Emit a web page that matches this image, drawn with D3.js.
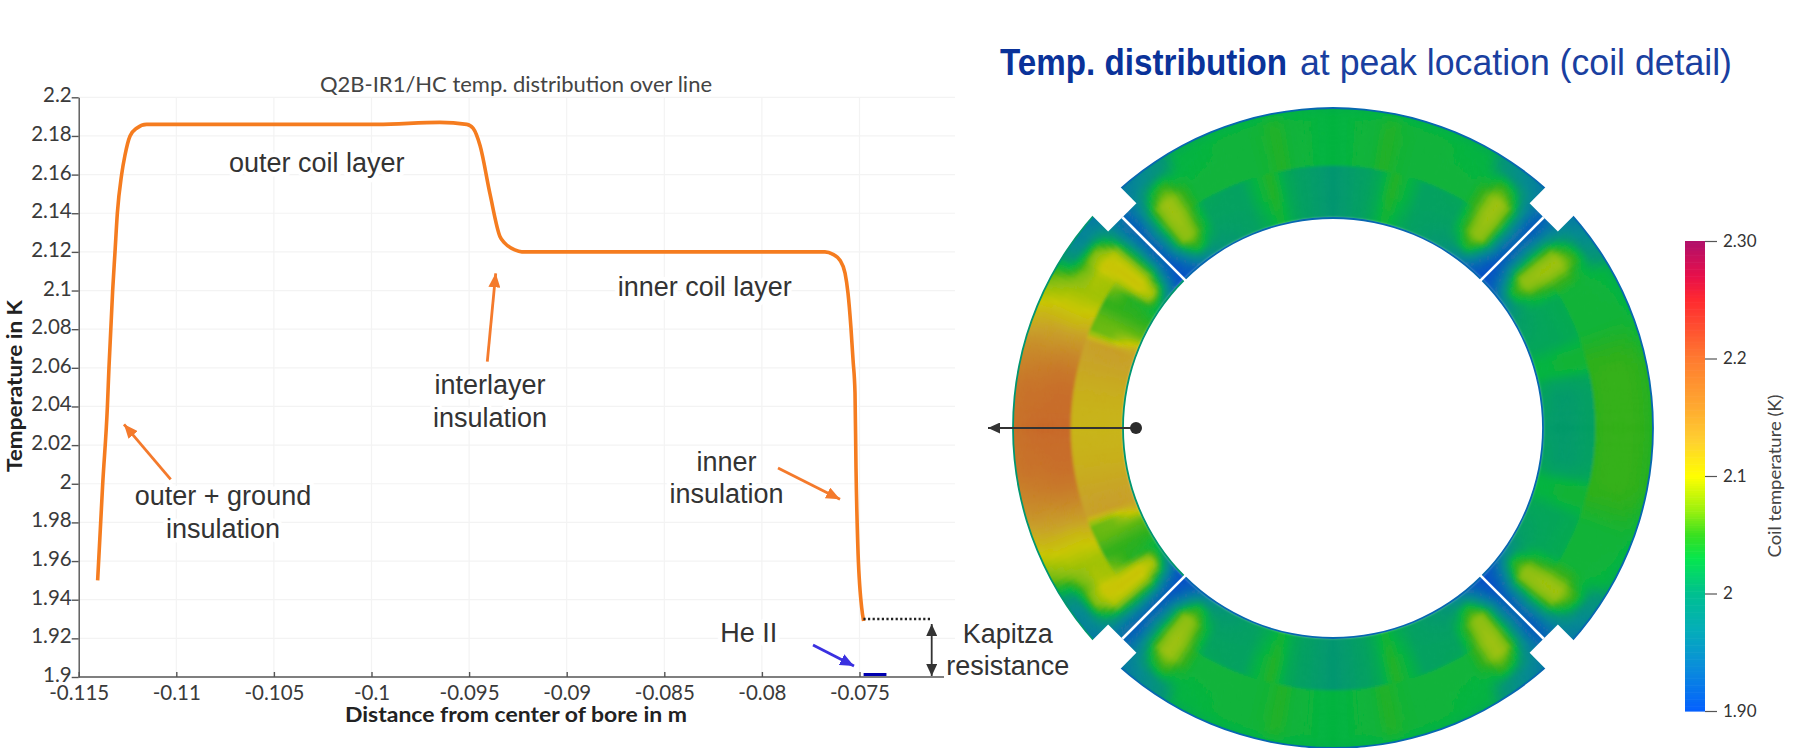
<!DOCTYPE html>
<html><head><meta charset="utf-8">
<script src="https://cdn.jsdelivr.net/npm/d3@7/dist/d3.min.js"></script>
<style>html,body{margin:0;background:#fff}svg{display:block}</style></head><body>
<svg id="c" width="1799" height="748"></svg>
<script>
// ---------- line chart data ----------
const coilDistance = [-0.11403,-0.11377,-0.11353,-0.11345,-0.11326,-0.11314,-0.11302,-0.1128,-0.11263,-0.11237,-0.11203,-0.11152,-0.105,-0.0997,-0.0965,-0.09512,-0.0948,-0.09444,-0.09393,-0.09342,-0.09317,-0.09266,-0.0923,-0.085,-0.07677,-0.07636,-0.076,-0.07574,-0.07559,-0.07544,-0.07533,-0.07523,-0.07518,-0.07509,-0.07489,-0.07479];
const coilTemperature = [1.95,2.0,2.04,2.06,2.1,2.12,2.14,2.16,2.17,2.18,2.184,2.186,2.186,2.186,2.187,2.186,2.184,2.175,2.15,2.128,2.1245,2.121,2.12,2.12,2.12,2.1187,2.1157,2.109,2.0987,2.081,2.064,2.047,2.0086,1.969,1.936,1.929];
const heliumDistance = [-0.07479,-0.07362];
const heliumTemperature = [1.9013,1.9013];
const yTicks = [2.2,2.18,2.16,2.14,2.12,2.1,2.08,2.06,2.04,2.02,2,1.98,1.96,1.94,1.92,1.9];
const xTicks = [-0.115,-0.11,-0.105,-0.1,-0.095,-0.09,-0.085,-0.08,-0.075];
const xTickLabels = ["-0.115","-0.11","-0.105","-0.1","-0.095","-0.09","-0.085","-0.08","-0.075"];
const kapitzaTemperature = 1.93;

// ---------- colour legend ----------
const legendTicks = [2.3,2.2,2.1,2,1.9];
const legendTickLabels = ["2.30","2.2","2.1","2","1.90"];
const colorTemps = [1.90,1.94,1.97,2.0,2.03,2.05,2.07,2.1,2.13,2.16,2.2,2.23,2.25,2.27,2.3];
const colorHexes = ["#0560ff","#0a90d8","#04aeb8","#00c090","#06e64e","#38e020","#98f010","#ffff00","#ffd030","#ffa830","#ff7b30","#ff4a30","#ff2a30","#e8104a","#b0106a"];

// ---------- ring temperature field, half-pole tables (rows by radius, columns by angle off pole axis) ----------
const innerRadii = [212,225,240,263];
const outerRadii = [263,280,296,310,320];
const sidePhi = [0,8,11,14,17,21,30,33,35,37,39,41,43,45];
const topInner = [
 [2.00,2.01,2.02,2.035,2.02,2.01,2.00,1.99,1.97,1.96,1.94,1.92,1.91,1.90],
 [2.00,2.01,2.02,2.04,2.025,2.01,2.005,2.01,2.03,2.04,2.00,1.95,1.92,1.90],
 [2.00,2.01,2.02,2.045,2.03,2.01,2.01,2.04,2.07,2.08,2.07,2.00,1.94,1.91],
 [2.00,2.01,2.02,2.045,2.03,2.01,2.015,2.055,2.08,2.085,2.07,2.01,1.95,1.92]];
const topOuter = [
 [2.03,2.032,2.045,2.036,2.032,2.032,2.032,2.055,2.08,2.085,2.07,2.01,1.95,1.92],
 [2.03,2.032,2.045,2.036,2.032,2.032,2.032,2.055,2.08,2.085,2.065,2.0,1.94,1.91],
 [2.03,2.032,2.045,2.036,2.032,2.032,2.03,2.03,2.05,2.04,2.01,1.97,1.94,1.92],
 [2.03,2.032,2.042,2.034,2.032,2.032,2.028,2.0,1.99,1.98,1.97,1.96,1.95,1.94],
 [2.025,2.025,2.03,2.026,2.025,2.025,2.02,1.99,1.98,1.97,1.96,1.95,1.94,1.93]];
const rightInner = [
 [2.005,2.01,2.015,2.03,2.03,2.015,2.005,1.99,1.97,1.96,1.94,1.92,1.91,1.90],
 [2.005,2.005,2.01,2.03,2.03,2.015,2.01,2.01,2.03,2.04,2.00,1.95,1.92,1.90],
 [2.005,2.005,2.01,2.035,2.035,2.015,2.015,2.04,2.07,2.08,2.07,2.00,1.94,1.91],
 [2.01,2.01,2.015,2.035,2.035,2.02,2.02,2.055,2.08,2.085,2.07,2.01,1.95,1.92]];
const rightOuter = [
 [2.05,2.05,2.05,2.05,2.045,2.034,2.034,2.055,2.08,2.085,2.07,2.01,1.95,1.92],
 [2.052,2.052,2.052,2.05,2.045,2.034,2.034,2.055,2.08,2.085,2.065,2.0,1.94,1.91],
 [2.052,2.052,2.052,2.05,2.045,2.034,2.032,2.03,2.05,2.04,2.01,1.97,1.94,1.92],
 [2.05,2.05,2.05,2.048,2.042,2.034,2.03,2.0,1.99,1.98,1.97,1.96,1.95,1.94],
 [2.045,2.045,2.045,2.04,2.035,2.03,2.02,1.99,1.98,1.97,1.96,1.95,1.94,1.93]];
const leftPhi = [0,8,12,16,20,22,25,29,33,35,37,39,41,43,45];
const leftInner = [
 [2.115,2.12,2.125,2.13,2.13,2.12,2.065,2.05,2.03,2.02,2.00,1.97,1.94,1.91,1.90],
 [2.115,2.12,2.125,2.13,2.135,2.10,2.065,2.05,2.04,2.08,2.09,2.05,1.98,1.93,1.91],
 [2.115,2.12,2.125,2.13,2.135,2.07,2.065,2.05,2.045,2.10,2.105,2.085,2.03,1.95,1.92],
 [2.115,2.12,2.125,2.13,2.13,2.065,2.065,2.05,2.075,2.10,2.105,2.09,2.03,1.96,1.92]];
const leftOuter = [
 [2.19,2.185,2.175,2.155,2.135,2.12,2.105,2.085,2.085,2.10,2.105,2.09,2.03,1.96,1.92],
 [2.19,2.185,2.175,2.155,2.13,2.115,2.10,2.085,2.09,2.105,2.10,2.09,2.02,1.95,1.93],
 [2.19,2.18,2.17,2.15,2.13,2.115,2.10,2.08,2.06,2.07,2.07,2.03,1.99,1.95,1.94],
 [2.185,2.18,2.165,2.15,2.125,2.115,2.095,2.07,2.00,1.98,1.97,1.97,1.96,1.95,1.94],
 [2.18,2.175,2.16,2.145,2.12,2.11,2.09,2.06,1.99,1.97,1.96,1.96,1.95,1.94,1.93]];
const poleEdgeTemps = [1.93,1.93,1.93,2.0];   // top, right, bottom, left
const gapAngles = [45,135,225,315];

const svg = d3.select("#c");
const DK = "#333";
const ann = "'Liberation Sans',Arial,sans-serif", chartF = "Lato,sans-serif";

// ---------- chart scales ----------
const x = d3.scaleLinear().domain([-0.115,-0.075]).range([78.7,859.5]);
const y = d3.scaleLinear().domain([1.9,2.2]).range([677,97.3]);

const grid = svg.append("g").attr("stroke","#f3f3f3").attr("stroke-width",1.2);
grid.selectAll("line.h").data(yTicks.slice(0,-1)).join("line").attr("x1",x(-0.115)).attr("x2",955).attr("y1",d=>y(d)).attr("y2",d=>y(d));
grid.selectAll("line.v").data(xTicks.slice(1)).join("line").attr("x1",d=>x(d)).attr("x2",d=>x(d)).attr("y1",y(2.2)).attr("y2",y(1.9));

const defs = svg.append("defs");
function marker(id,col,w,l){
  defs.append("marker").attr("id",id).attr("viewBox",`0 0 ${l} ${w}`).attr("refX",l).attr("refY",w/2)
    .attr("markerUnits","userSpaceOnUse").attr("markerWidth",l).attr("markerHeight",w).attr("orient","auto-start-reverse")
    .append("path").attr("d",`M0,0L${l},${w/2}L0,${w}Z`).attr("fill",col);
}
marker("o","#f47a2c",12,14); marker("b","#3a30e0",12,14); marker("k",DK,11,12);

// annotation text (halo masks the grid)
const labels = [
 ["outer coil layer",316.7,171.7],["inner coil layer",704.7,296],["interlayer",490,394],["insulation",490,426.7],
 ["outer + ground",223,505],["insulation",223,538],["inner",726.6,470.7],["insulation",726.6,503],
 ["He II",748.8,641.7],["Kapitza",1007.8,643],["resistance",1007.8,675]];
svg.append("g").selectAll("text").data(labels).join("text").text(d=>d[0]).attr("x",d=>d[1]).attr("y",d=>d[2])
  .attr("text-anchor","middle").attr("font-family",ann).attr("font-size",27).attr("fill","#333")
  .attr("stroke","#fff").attr("stroke-width",9).attr("paint-order","stroke").attr("stroke-linejoin","round");

// axes
const ay = d3.axisLeft(y).tickValues(yTicks).tickFormat(d=>String(d)).tickSize(7).tickSizeOuter(0).tickPadding(0);
const gy = svg.append("g").attr("transform",`translate(${x(-0.115)},0)`).call(ay);
const ax = d3.axisBottom(x).tickValues(xTicks).tickFormat((d,i)=>xTickLabels[i]).tickSize(-5).tickSizeOuter(0).tickPadding(7);
const gx = svg.append("g").attr("transform",`translate(0,${y(1.9)})`).call(ax);
for (const g of [gy,gx]) {
  g.selectAll("path,line").attr("stroke","#555").attr("stroke-width",1.4);
  g.selectAll("text").attr("font-family",chartF).attr("font-size",20.5).attr("fill","#3a3a3a");
}
gy.selectAll("text").attr("dy","0.22em");
gx.select("path.domain").attr("d",`M${x(-0.115)},0H944`);
gx.selectAll("text").attr("y",7).attr("dy","0.8em");

svg.append("text").text("Q2B-IR1/HC temp. distribution over line").attr("x",320).attr("y",92)
  .attr("font-family",chartF).attr("font-size",21).attr("fill","#444").attr("textLength",392).attr("lengthAdjust","spacingAndGlyphs");
svg.append("text").text("Temperature in K").attr("transform","translate(22,386) rotate(-90)").attr("text-anchor","middle")
  .attr("font-family",chartF).attr("font-weight",700).attr("font-size",20).attr("fill","#222").attr("textLength",172).attr("lengthAdjust","spacingAndGlyphs");
svg.append("text").text("Distance from center of bore in m").attr("x",345).attr("y",722)
  .attr("font-family",chartF).attr("font-weight",700).attr("font-size",20).attr("fill","#222").attr("textLength",342).attr("lengthAdjust","spacingAndGlyphs");

// series
const line = d3.line().x(d=>x(d[0])).y(d=>y(d[1])).curve(d3.curveMonotoneX);
svg.append("path").attr("d",line(d3.zip(coilDistance,coilTemperature))).attr("fill","none").attr("stroke","#f57c1f").attr("stroke-width",3.6).attr("stroke-linejoin","round");
svg.append("path").attr("d",line(d3.zip(heliumDistance,heliumTemperature))).attr("fill","none").attr("stroke","#0000b0").attr("stroke-width",3);
svg.append("line").attr("x1",x(-0.0748)).attr("x2",931.7).attr("y1",y(kapitzaTemperature)).attr("y2",y(kapitzaTemperature))
  .attr("stroke","#222").attr("stroke-width",2.6).attr("stroke-dasharray","2.2 2.4");

// arrows
const arrows = [[170.7,479.3,124,424.3,"o","#f47a2c"],[487.3,361.7,495.7,273.3,"o","#f47a2c"],[778,468,840,499.3,"o","#f47a2c"],[813,645,854,666,"b","#3a30e0"]];
svg.append("g").selectAll("line").data(arrows).join("line").attr("x1",d=>d[0]).attr("y1",d=>d[1]).attr("x2",d=>d[2]).attr("y2",d=>d[3])
  .attr("stroke",d=>d[5]).attr("stroke-width",2.8).attr("marker-end",d=>`url(#${d[4]})`);
svg.append("line").attr("x1",931.7).attr("x2",931.7).attr("y1",624).attr("y2",676).attr("stroke",DK).attr("stroke-width",1.8)
  .attr("marker-start","url(#k)").attr("marker-end","url(#k)");

// ---------- ring ----------
const cx=1333, cy=428, Ri=210, Rm=263, Ro=320;
const color = d3.scaleLinear().domain(colorTemps).range(colorHexes).clamp(true);
const ringColor = t => d3.rgb(color(t)).darker(0.7).formatHex();
function makeField(phis,radii,table){
  const rows = table.map(r=>d3.scaleLinear().domain(phis).range(r).clamp(true));
  const idx = d3.scaleLinear().domain(radii).range(d3.range(radii.length)).clamp(true);
  return (p,r)=>{const f=idx(r),i=Math.min(Math.floor(f),rows.length-2),k=f-i;return rows[i](p)*(1-k)+rows[i+1](p)*k;};
}
const fields = [
 [makeField(sidePhi,innerRadii,topInner),makeField(sidePhi,outerRadii,topOuter)],
 [makeField(sidePhi,innerRadii,rightInner),makeField(sidePhi,outerRadii,rightOuter)],
 [makeField(sidePhi,innerRadii,topInner),makeField(sidePhi,outerRadii,topOuter)],
 [makeField(leftPhi,innerRadii,leftInner),makeField(leftPhi,outerRadii,leftOuter)]];
const cells=[]; const dA=1, dR=2.5;
for(let a=0;a<360;a+=dA){
  const mid=a+dA/2, k=Math.round(mid/90)%4, phi=Math.abs(((mid-90*k+540)%360)-180);
  for(let r=Ri;r<Ro;r+=dR){
    const rm=r+dR/2, f=fields[k][rm<Rm?0:1];
    cells.push({a,r,t:f(phi,rm)});
  }
}
const arc=d3.arc();
defs.append("filter").attr("id","soft").attr("x","-5%").attr("y","-5%").attr("width","110%").attr("height","110%")
  .append("feGaussianBlur").attr("stdDeviation",1.7);
const ring=svg.append("g").attr("transform",`translate(${cx},${cy})`);
const field=ring.append("g").attr("filter","url(#soft)");
field.selectAll("path").data(cells).join("path")
  .attr("d",d=>arc({innerRadius:d.r,outerRadius:d.r+dR+(d.r+dR>=Ro?6:0),startAngle:d.a*Math.PI/180,endAngle:(d.a+dA)*Math.PI/180}))
  .attr("fill",d=>ringColor(d.t)).attr("stroke",d=>ringColor(d.t)).attr("stroke-width",0.7);
// clean edges: white outside the annulus, then a thin edge stroke per pole
ring.append("circle").attr("r",Ro+8).attr("fill","none").attr("stroke","#fff").attr("stroke-width",16);
ring.append("circle").attr("r",Ri).attr("fill","#fff");
ring.selectAll("path.edge").data(d3.cross([0,1,2,3],[Ri,Ro])).join("path").attr("class","edge")
  .attr("d",d=>arc({innerRadius:d[1]-0.9,outerRadius:d[1]+0.9,startAngle:(d[0]*90-45)*Math.PI/180,endAngle:(d[0]*90+45)*Math.PI/180}))
  .attr("fill",d=>ringColor(poleEdgeTemps[d[0]]));
// gaps and notches on the diagonals
const gaps=ring.selectAll("g.gap").data(gapAngles).join("g").attr("class","gap").attr("transform",d=>`rotate(${d-90})`);
gaps.append("rect").attr("x",Ri-3).attr("width",298-Ri+3).attr("y",-1.3).attr("height",2.6).attr("fill","#fff");
gaps.append("rect").attr("x",298).attr("width",Ro-298+6).attr("y",-20).attr("height",40).attr("fill","#fff");

// pointer
svg.append("line").attr("x1",1136).attr("x2",988).attr("y1",cy).attr("y2",cy).attr("stroke",DK).attr("stroke-width",2.2).attr("marker-end","url(#k)");
svg.append("circle").attr("cx",1136).attr("cy",cy).attr("r",6).attr("fill","#2b2b2b");

// title
svg.append("text").text("Temp. distribution").attr("x",1000).attr("y",75).attr("font-family",ann).attr("font-weight",700)
  .attr("font-size",36).attr("fill","#0a3299").attr("textLength",287).attr("lengthAdjust","spacingAndGlyphs");
svg.append("text").text("at peak location (coil detail)").attr("x",1300).attr("y",75).attr("font-family",ann)
  .attr("font-size",36).attr("fill","#1a3fa0").attr("textLength",432).attr("lengthAdjust","spacingAndGlyphs");

// ---------- colour bar ----------
const ly = d3.scaleLinear().domain([1.9,2.3]).range([711,241]);
const lx = 1685, lw = 20;
svg.append("g").selectAll("rect").data(d3.range(0,200)).join("rect")
  .attr("x",lx).attr("width",lw).attr("y",i=>ly(1.9+(i+1)*0.002)).attr("height",i=>ly(1.9+i*0.002)-ly(1.9+(i+1)*0.002)+0.6)
  .attr("fill",i=>color(1.9+(i+0.5)*0.002));
const al = d3.axisRight(ly).tickValues(legendTicks).tickFormat((d,i)=>legendTickLabels[i]).tickSize(12).tickSizeOuter(0).tickPadding(6);
const gl = svg.append("g").attr("transform",`translate(${lx+lw},0)`).call(al);
gl.select("path.domain").remove();
gl.selectAll("line").attr("stroke","#555").attr("stroke-width",1.2);
gl.selectAll("text").attr("font-family",chartF).attr("font-size",17).attr("fill","#333");
svg.append("text").text("Coil temperature (K)").attr("transform","translate(1781,476) rotate(-90)").attr("text-anchor","middle")
  .attr("font-family",chartF).attr("font-size",17).attr("fill","#444").attr("textLength",163).attr("lengthAdjust","spacingAndGlyphs");
</script></body></html>
